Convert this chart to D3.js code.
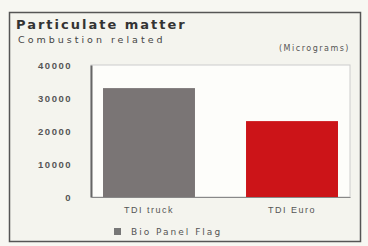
<!DOCTYPE html>
<html>
<head>
<meta charset="utf-8">
<script src="https://cdn.jsdelivr.net/npm/d3@7"></script>
<style>
  body { margin: 0; background: #f7f7f2; }
  svg { display: block; font-family: "DejaVu Sans", sans-serif; }
</style>
</head>
<body>
<script>
var categories = ['TDI truck', 'TDI Euro'];
var values = [33000, 23000];
var colors = ['#7a7575', '#cc1418'];
var yTicks = [0, 10000, 20000, 30000, 40000];

var W = 368, H = 246;
var margin = {top: 65, right: 18, bottom: 48, left: 91},
  width = W - margin.left - margin.right,
  height = 197 - margin.top;

var root = d3.select("body")
  .append("svg")
  .attr("width", W)
  .attr("height", H);

// outer frame
root.append("rect")
  .attr("x", 9.5).attr("y", 12.5)
  .attr("width", 351).attr("height", 229)
  .attr("fill", "#f4f4ee")
  .attr("stroke", "#555").attr("stroke-width", 1.5);

root.append("text")
  .attr("x", 16).attr("y", 29)
  .attr("font-size", 13).attr("font-weight", "bold").attr("fill", "#333")
  .attr("letter-spacing", 2)
  .text("Particulate matter");
root.append("text")
  .attr("x", 18).attr("y", 43)
  .attr("font-size", 9.5).attr("fill", "#444")
  .attr("letter-spacing", 3)
  .text("Combustion related");
root.append("text")
  .attr("x", 350).attr("y", 51)
  .attr("text-anchor", "end")
  .attr("font-size", 8).attr("fill", "#555")
  .attr("letter-spacing", 1.5)
  .text("(Micrograms)");

var svg = root.append("g")
  .attr("transform", "translate(" + margin.left + "," + margin.top + ")");

svg.append("rect")
  .attr("width", width).attr("height", height)
  .attr("fill", "#fdfdfa")
  .attr("stroke", "#ccc");

var y = d3.scaleLinear()
  .domain([0, 40000])
  .range([height, 0]);

var x = d3.scaleBand()
  .domain(categories)
  .range([0, width])
  .paddingInner(0.357)
  .paddingOuter(0.084);

svg.append("g")
  .call(d3.axisLeft(y).tickValues(yTicks).tickSize(0).tickPadding(19)
    .tickFormat(function(d) { return d; }))
  .call(function(g) { g.select(".domain").attr("stroke", "#666").attr("stroke-width", 2); })
  .selectAll("text")
    .attr("font-size", 9.5).attr("font-weight", "bold").attr("fill", "#555")
    .attr("letter-spacing", 1.5);

svg.selectAll("rect.bar")
  .data(values)
  .enter()
  .append("rect")
  .attr("class", "bar")
  .attr("x", function(d, i) { return x(categories[i]); })
  .attr("y", function(d) { return y(d); })
  .attr("width", x.bandwidth())
  .attr("height", function(d) { return height - y(d); })
  .attr("fill", function(d, i) { return colors[i]; });

svg.append("g")
  .attr("transform", "translate(0," + height + ")")
  .call(d3.axisBottom(x).tickSize(0).tickPadding(10))
  .call(function(g) { g.select(".domain").attr("stroke", "#888"); })
  .selectAll("text")
    .attr("font-size", 9).attr("fill", "#555")
    .attr("letter-spacing", 1.5);

// legend
root.append("rect")
  .attr("x", 114).attr("y", 228)
  .attr("width", 7).attr("height", 7)
  .attr("fill", "#777");
root.append("text")
  .attr("x", 131).attr("y", 235)
  .attr("font-size", 9).attr("fill", "#555")
  .attr("letter-spacing", 2)
  .text("Bio Panel Flag");
</script>
</body>
</html>
